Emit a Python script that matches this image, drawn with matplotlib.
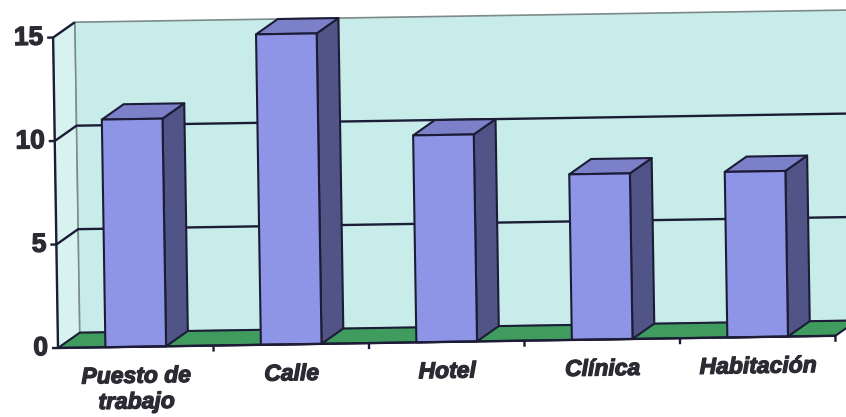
import matplotlib.pyplot as plt
import matplotlib.patheffects as pe
from matplotlib.patches import Polygon
from matplotlib.transforms import Affine2D

categorias = ['Puesto de\ntrabajo', 'Calle', 'Hotel', 'Clínica', 'Habitación']
valores = [11, 15, 10, 8, 8]
y_ticks = [0, 5, 10, 15]
y_max = 15

# pixel scale of the front plane and depth offset of the 3d box
XS, YS = 155.5, 20.7
DX, DY = 22 / XS, 15 / YS
ANCHO = 0.39
GIRO = 0.9

C_PARED = '#c8ecea'
C_LADO = '#d8f2f0'
C_SUELO = '#3f9c5e'
C_FRENTE = '#8f95e6'
C_COSTADO = '#505487'
C_TECHO = '#7b80c8'
C_BORDE = '#1c1c36'
C_TEXTO = '#2b2b33'

fig = plt.figure(figsize=(8.46, 4.17), dpi=100)
ax = fig.add_axes([0, 0, 1, 1])
ax.set_xlim(-0.5 - 58 / XS, -0.5 + (846 - 58) / XS)
ax.set_ylim(-69 / YS, (417 - 69) / YS)
ax.axis('off')

# slight tilt of the whole drawing around the lower left corner
x0, y0 = ax.transData.transform((-0.5, 0))
tr = ax.transData + Affine2D().rotate_deg_around(x0, y0, GIRO)

izq, der = -0.5, len(categorias) - 0.5
grueso = [pe.withStroke(linewidth=0.9, foreground=C_TEXTO)]


def poli(pts, fc, ec=C_BORDE, lw=1.5, z=1):
    ax.add_patch(Polygon(pts, closed=True, facecolor=fc, edgecolor=ec,
                         linewidth=lw, transform=tr, zorder=z, joinstyle='round'))


def linea(xs, ys, c=C_BORDE, lw=1.7, z=2):
    ax.plot(xs, ys, color=c, linewidth=lw, transform=tr, zorder=z,
            solid_capstyle='butt')


# walls and floor
poli([(izq, 0), (izq, y_max), (izq + DX, y_max + DY), (izq + DX, DY)],
     C_LADO, ec='#8a9a9a', lw=1.0)
poli([(izq + DX, DY), (der + DX, DY), (der + DX, y_max + DY), (izq + DX, y_max + DY)],
     C_PARED, ec='#7d8a8a', lw=1.2)
for v in y_ticks[1:-1]:
    linea([izq, izq + DX, der + DX], [v, v + DY, v + DY])
linea([izq, izq + DX], [y_max, y_max + DY])
poli([(izq, 0), (der, 0), (der + DX, DY), (izq + DX, DY)], C_SUELO, lw=1.5, z=3)

# columns
for i, v in enumerate(valores):
    a, b = i - ANCHO / 2, i + ANCHO / 2
    poli([(b, 0), (b + DX, DY), (b + DX, v + DY), (b, v)], C_COSTADO, z=4)
    poli([(a, v), (b, v), (b + DX, v + DY), (a + DX, v + DY)], C_TECHO, z=4)
    poli([(a, 0), (b, 0), (b, v), (a, v)], C_FRENTE, z=5)

# axes, ticks and labels
linea([izq, izq], [0, y_max], z=6)
linea([izq, der], [0, 0], z=6)
for v in y_ticks:
    linea([izq - 6 / XS, izq], [v, v], z=6)
    ax.text(izq - 10 / XS, v, str(v), transform=tr, rotation=GIRO,
            rotation_mode='anchor', ha='right', va='center', fontsize=19,
            fontweight='bold', color=C_TEXTO, family='Liberation Sans',
            path_effects=grueso)
for k in range(1, len(categorias) + 1):
    linea([izq + k, izq + k], [0, -6 / YS], z=6)
for i, nombre in enumerate(categorias):
    ax.text(i, -18 / YS, nombre, transform=tr, rotation=GIRO,
            rotation_mode='anchor', ha='center', va='top', ma='center',
            fontsize=16.5, fontweight='bold', fontstyle='italic',
            color=C_TEXTO, family='Liberation Sans', linespacing=1.15,
            path_effects=grueso)

fig.savefig('out.png', dpi=100, facecolor='white')
